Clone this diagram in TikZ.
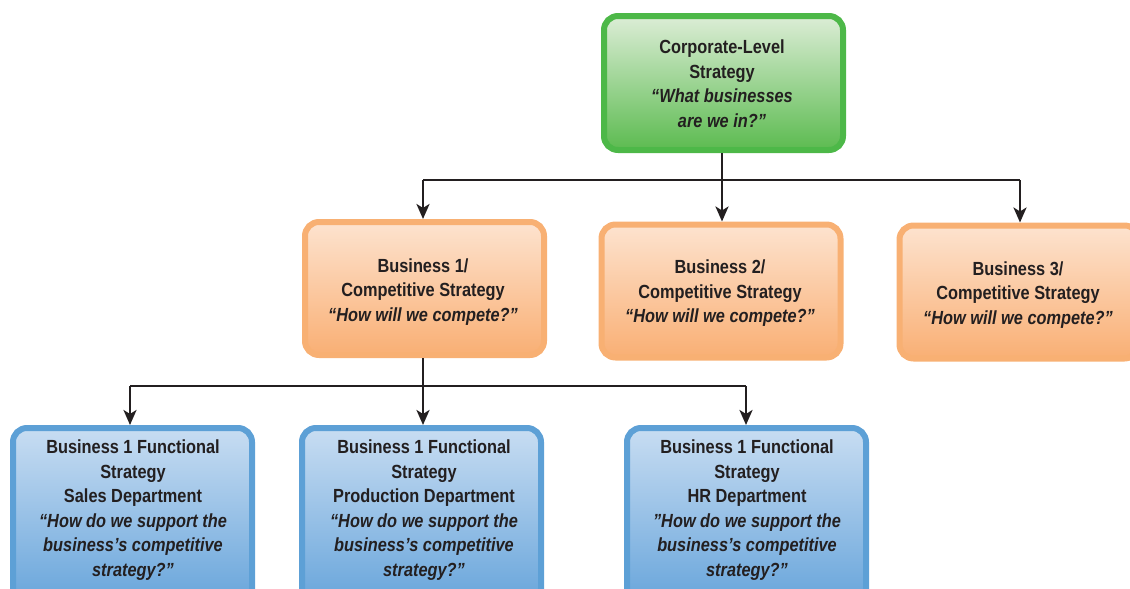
\documentclass[tikz,border=0pt]{standalone}
\usepackage{fontspec}
\setmainfont{Liberation Sans}[FakeStretch=0.86]
\usetikzlibrary{arrows.meta}
\definecolor{ink}{HTML}{231F20}
\definecolor{gborder}{HTML}{4DB848}
\definecolor{gtop}{HTML}{DCEDD6}
\definecolor{gbot}{HTML}{5CBB50}
\definecolor{oborder}{HTML}{F8B073}
\definecolor{otop}{HTML}{FDE3CF}
\definecolor{obot}{HTML}{F9AF74}
\definecolor{bborder}{HTML}{5DA0D6}
\definecolor{btop}{HTML}{C8DDF2}
\definecolor{bbot}{HTML}{68A5DB}
\tikzset{
  txt/.style={align=center, text=ink, font=\bfseries\fontsize{19}{24.5}\selectfont},
  box/.style={txt, rounded corners=14pt, line width=6pt, minimum width=239pt, inner sep=0pt},
  greenbox/.style={box, draw=gborder, top color=gtop, bottom color=gbot, minimum height=134pt},
  orangebox/.style={box, draw=oborder, top color=otop, bottom color=obot, minimum height=133pt},
  bluebox/.style={box, draw=bborder, top color=btop, bottom color=bbot, minimum height=175pt},
  conn/.style={draw=ink, line width=2.6pt},
  arr/.style={conn, -{Stealth[length=15pt, width=13pt, inset=4pt]}},
}
\begin{document}
\begin{tikzpicture}[x=1pt, y=-1pt]
\useasboundingbox (0,0) rectangle (1130,589);
\clip (0,0) rectangle (1130,589);
% boxes
\node[greenbox] (corp) at (723.5,83) {};
\node[orangebox] (b1) at (424.5,288.5) {};
\node[orangebox] (b2) at (721,291) {};
\node[orangebox] (b3) at (1019,292) {};
\node[bluebox] (f1) at (132.5,515.5) {};
\node[bluebox] (f2) at (421.5,515.5) {};
\node[bluebox] (f3) at (746.5,515.5) {};
% texts
\node[txt] (tc) at (722,83.5) {Corporate-Level\\Strategy\\\itshape “What businesses\\\itshape are we in?”};
\node[txt] (tb1) at (423,292) {Business 1/\\Competitive Strategy\\\itshape “How will we compete?”};
\node[txt] (tb2) at (720,293.5) {Business 2/\\Competitive Strategy\\\itshape “How will we compete?”};
\node[txt] (tb3) at (1018,295) {Business 3/\\Competitive Strategy\\\itshape “How will we compete?”};
\node[txt] (t1) at (133,510) {Business 1 Functional\\Strategy\\Sales Department\\\itshape “How do we support the\\\itshape business’s competitive\\\itshape strategy?”};
\node[txt] (t2) at (424,510) {Business 1 Functional\\Strategy\\Production Department\\\itshape “How do we support the\\\itshape business’s competitive\\\itshape strategy?”};
\node[txt] (t3) at (747,510) {Business 1 Functional\\Strategy\\HR Department\\\itshape "How do we support the\\\itshape business’s competitive\\\itshape strategy?”};
% connectors
\coordinate (j1) at (722,180);
\coordinate (j2) at (423,386);
\draw[conn] (corp.south -| j1) -- (j1);
\draw[conn] (423,180) -- (1020,180);
\draw[arr] (423,180) -- (b1.north -| 423,0);
\draw[arr] (j1) -- (b2.north -| j1);
\draw[arr] (1020,180) -- (b3.north -| 1020,0);
\draw[conn] (b1.south -| j2) -- (j2);
\draw[conn] (130,386) -- (746,386);
\draw[arr] (130,386) -- (f1.north -| 130,0);
\draw[arr] (j2) -- (f2.north -| j2);
\draw[arr] (746,386) -- (f3.north -| 746,0);
\end{tikzpicture}
\end{document}
